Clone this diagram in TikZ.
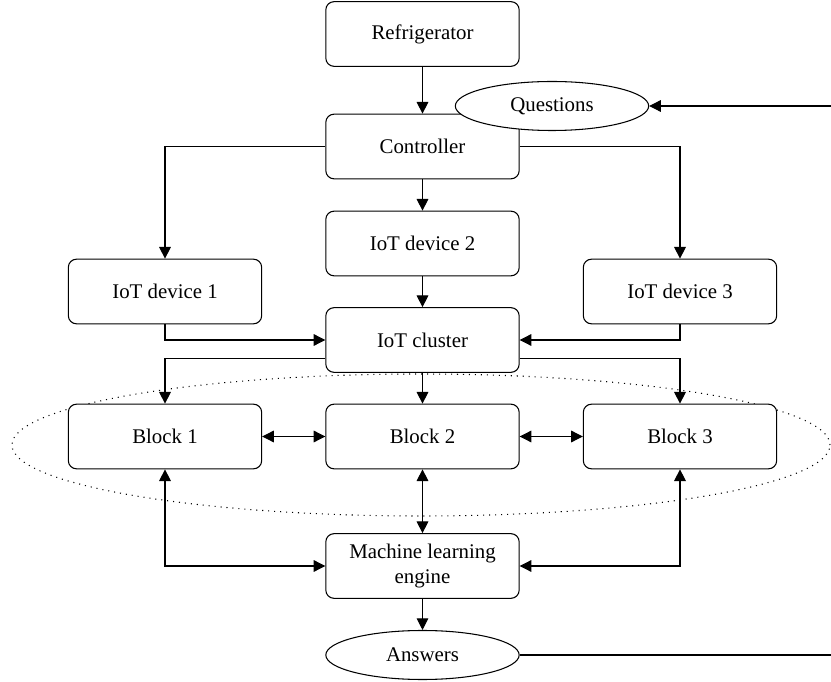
\documentclass[tikz,border=0pt]{standalone}
\usepackage{fontspec}
\setmainfont{Liberation Serif}
\usetikzlibrary{arrows.meta,shapes.geometric}

\begin{document}
\begin{tikzpicture}[x=0.03cm, y=-0.03cm, line width=0.9pt,
    >={Triangle[length=10pt,width=10pt]},
    box/.style={rectangle, rounded corners=7pt, draw, fill=white, minimum width=5.8cm, minimum height=1.94cm, align=center, font=\fontsize{17.8}{21.5}\selectfont},
    oval/.style={ellipse, draw, fill=white, minimum width=5.8cm, minimum height=1.47cm, inner sep=0pt, font=\fontsize{17.8}{21.5}\selectfont}]
        \useasboundingbox (0,0) rectangle (831,682);

        % Dotted group round the blocks
        \node[ellipse, draw, dash pattern=on 0.9pt off 4.2pt, minimum width=24.54cm, minimum height=4.26cm] (chain) at (421,445) {};

        % Top of the chain
        \node[box] (R) at (422.5,34) {Refrigerator};
        \node[box] (C) at (422.5,146.5) {Controller};
        \draw[->] (R) -- (C);
        \node[oval] (Q) at (552,106) {Questions};
        \coordinate (Qin) at (831,106);
        \draw[->] (Qin) -- (Q.east);

        % IoT devices
        \node[box] (D1) at (165,291.5) {IoT device 1};
        \node[box] (D2) at (422.5,243.5) {IoT device 2};
        \node[box] (D3) at (680,291.5) {IoT device 3};
        \node[box] (K) at (422.5,340) {IoT cluster};

        \draw[->] (C.west) -| (D1.north);
        \draw[->] (C) -- (D2);
        \draw[->] (C.east) -| (D3.north);
        \draw[->] (D1.south) |- (K.west);
        \draw[->] (D2) -- (K);
        \draw[->] (D3.south) |- (K.east);

        % Blocks
        \foreach \i/\x in {1/165, 2/422.5, 3/680} {
            \node[box] (B\i) at (\x,436.5) {Block \i};
        }
        \draw[->] ([yshift=0.42cm]K.south west) -| (B1.north);
        \draw[->] (K) -- (B2);
        \draw[->] ([yshift=0.42cm]K.south east) -| (B3.north);
        \draw[<->] (B1) -- (B2);
        \draw[<->] (B2) -- (B3);

        % Engine and answers
        \node[box] (M) at (422.5,566) {Machine learning\\engine};
        \draw[<->] (B2) -- (M);
        \draw[<->] (M.west) -| (B1.south);
        \draw[<->] (M.east) -| (B3.south);
        \node[oval] (A) at (422.5,655) {Answers};
        \draw[->] (M) -- (A);
        \coordinate (Aout) at (831,655);
        \draw (A.east) -- (Aout);
\end{tikzpicture}
\end{document}
